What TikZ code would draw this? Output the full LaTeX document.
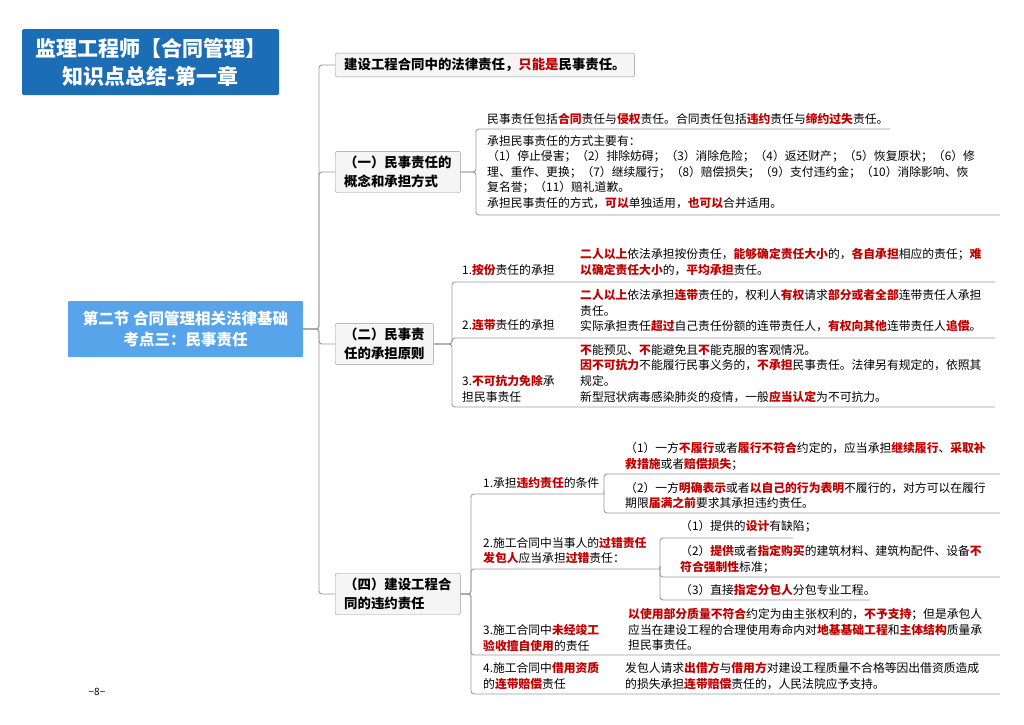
\documentclass[tikz,border=0pt]{standalone}
\usepackage{fontspec}
\setmainfont{Noto Sans CJK SC}
\definecolor{tblue}{HTML}{1B6EB6}
\definecolor{rblue}{HTML}{58A4EA}
\definecolor{hl}{HTML}{C00000}
\definecolor{ln}{HTML}{9A9A9A}
\newcommand{\R}[1]{\textcolor{hl}{\textbf{#1}}}
\tikzset{
  txt/.style={anchor=north west,inner sep=0pt,align=left,font=\fontsize{11.8}{15.6}\selectfont},
  lone/.style={draw=ln,fill=black!4,rounded corners=2pt,inner xsep=9pt,inner ysep=5pt,align=left,font=\fontsize{13.4}{18.5}\selectfont\bfseries},
  conn/.style={draw=ln,line width=0.9pt,rounded corners=3pt},
  uline/.style={draw=ln,line width=0.9pt}
}
\begin{document}
\begin{tikzpicture}[x=1pt,y=-1pt]
\useasboundingbox (0,0) rectangle (1024,724);
% title
\node[fill=tblue,text=white,rounded corners=1.5pt,minimum width=257,minimum height=66,align=center,font=\fontsize{21}{28}\selectfont\bfseries] (title) at (150.5,62) {监理工程师【合同管理】\\知识点总结-第一章};
\node[fill=rblue,text=white,rounded corners=1pt,minimum width=235,minimum height=56,align=center,font=\fontsize{15.5}{21}\selectfont\bfseries] (root) at (185.5,329) {第二节 合同管理相关法律基础\\考点三：民事责任};
% level 1
\node[lone,anchor=west] (A) at (335,65) {建设工程合同中的法律责任，\R{只能是}民事责任。};
\node[lone,anchor=west] (B) at (335,172) {（一）民事责任的\\概念和承担方式};
\node[lone,anchor=west] (C) at (335,344) {（二）民事责\\任的承担原则};
\node[lone,anchor=west] (D) at (335,594) {（四）建设工程合\\同的违约责任};
\foreach \n in {A,B,C,D}{\draw[conn] (root.east) -- (319,329) |- (\n.west);}
% B children
\node[txt] (b1) at (487,113) {民事责任包括\R{合同}责任与\R{侵权}责任。合同责任包括\R{违约}责任与\R{缔约过失}责任。};
\node[txt] (b2) at (487,135) {承担民事责任的方式主要有：\\
（1）停止侵害；（2）排除妨碍；（3）消除危险；（4）返还财产；（5）恢复原状；（6）修\\
理、重作、更换；（7）继续履行；（8）赔偿损失；（9）支付违约金；（10）消除影响、恢\\
复名誉；（11）赔礼道歉。\\
承担民事责任的方式，\R{可以}单独适用，\R{也可以}合并适用。};
\coordinate (b1e) at (890,129);
\coordinate (b2e) at (1000,215);
\draw[conn] (B.east) -- (476,172) |- (b1e);
\draw[conn] (B.east) -- (476,172) |- (b2e);
% C children
\node[txt] (c1l) at (462,264) {1.\R{按份}责任的承担};
\node[txt] (c1r) at (580,248) {\R{二人以上}依法承担按份责任，\R{能够确定责任大小}的，\R{各自承担}相应的责任；\R{难}\\\R{以确定责任大小}的，\R{平均承担}责任。};
\node[txt] (c2l) at (462,319) {2.\R{连带}责任的承担};
\node[txt] (c2r) at (580,289) {\R{二人以上}依法承担\R{连带}责任的，权利人\R{有权}请求\R{部分或者全部}连带责任人承担\\责任。\\实际承担责任\R{超过}自己责任份额的连带责任人，\R{有权向其他}连带责任人\R{追偿}。};
\node[txt] (c3l) at (462,375) {3.\R{不可抗力免除}承\\担民事责任};
\node[txt] (c3r) at (580,344) {\R{不}能预见、\R{不}能避免且\R{不}能克服的客观情况。\\\R{因不可抗力}不能履行民事义务的，\R{不承担}民事责任。法律另有规定的，依照其\\规定。\\新型冠状病毒感染肺炎的疫情，一般\R{应当认定}为不可抗力。};
\coordinate (c1e) at (995,282); \coordinate (c2e) at (995,338); \coordinate (c3e) at (995,407);
\foreach \c in {c1e,c2e,c3e}{\draw[conn] (C.east) -- (452,344) |- (\c);}
% D children
\node[txt] (d1l) at (483,477) {1.承担\R{违约责任}的条件};
\coordinate (d1j) at (604,494);
\draw[conn] (D.east) -- (471,594) |- (d1j);
\node[txt] (d11) at (625,442) {（1）一方\R{不履行}或者\R{履行不符合}约定的，应当承担\R{继续履行}、\R{采取补}\\\R{救措施}或者\R{赔偿损失}；};
\node[txt] (d12) at (625,482) {（2）一方\R{明确表示}或者\R{以自己的行为表明}不履行的，对方可以在履行\\期限\R{届满之前}要求其承担违约责任。};
\coordinate (d11e) at (1000,474); \coordinate (d12e) at (1000,513);
\draw[conn] (d1j) -- (604,494) |- (d11e);
\draw[conn] (d1j) -- (604,494) |- (d12e);
\node[txt] (d2l) at (483,537) {2.施工合同中当事人的\R{过错责任}\\\R{发包人}应当承担\R{过错}责任：};
\coordinate (d2j) at (660,569);
\draw[conn] (D.east) -- (471,594) |- (d2j);
\node[txt] (d21) at (680,520) {（1）提供的\R{设计}有缺陷；};
\node[txt] (d22) at (680,545) {（2）\R{提供}或者\R{指定购买}的建筑材料、建筑构配件、设备\R{不}\\\R{符合强制性}标准；};
\node[txt] (d23) at (680,584) {（3）直接\R{指定分包人}分包专业工程。};
\coordinate (d21e) at (793,538); \coordinate (d22e) at (1000,577); \coordinate (d23e) at (870,600);
\foreach \c in {d21e,d22e,d23e}{\draw[conn] (d2j) -- (660,569) |- (\c);}
\node[txt] (d3l) at (483,624) {3.施工合同中\R{未经竣工}\\\R{验收擅自使用}的责任};
\node[txt] (d3r) at (628,608) {\R{以使用部分质量不符合}约定为由主张权利的，\R{不予支持}；但是承包人\\应当在建设工程的合理使用寿命内对\R{地基基础工程}和\R{主体结构}质量承\\担民事责任。};
\node[txt] (d4l) at (483,662) {4.施工合同中\R{借用资质}\\的\R{连带赔偿}责任};
\node[txt] (d4r) at (625,662) {发包人请求\R{出借方}与\R{借用方}对建设工程质量不合格等因出借资质造成\\的损失承担\R{连带赔偿}责任的，人民法院应予支持。};
\coordinate (d3e) at (1000,655); \coordinate (d4e) at (1000,694);
\foreach \c in {d3e,d4e}{\draw[conn] (D.east) -- (471,594) |- (\c);}
\node[font=\fontsize{10}{11}\selectfont,inner sep=0pt] (pg) at (97,692) {−8−};
\end{tikzpicture}
\end{document}
